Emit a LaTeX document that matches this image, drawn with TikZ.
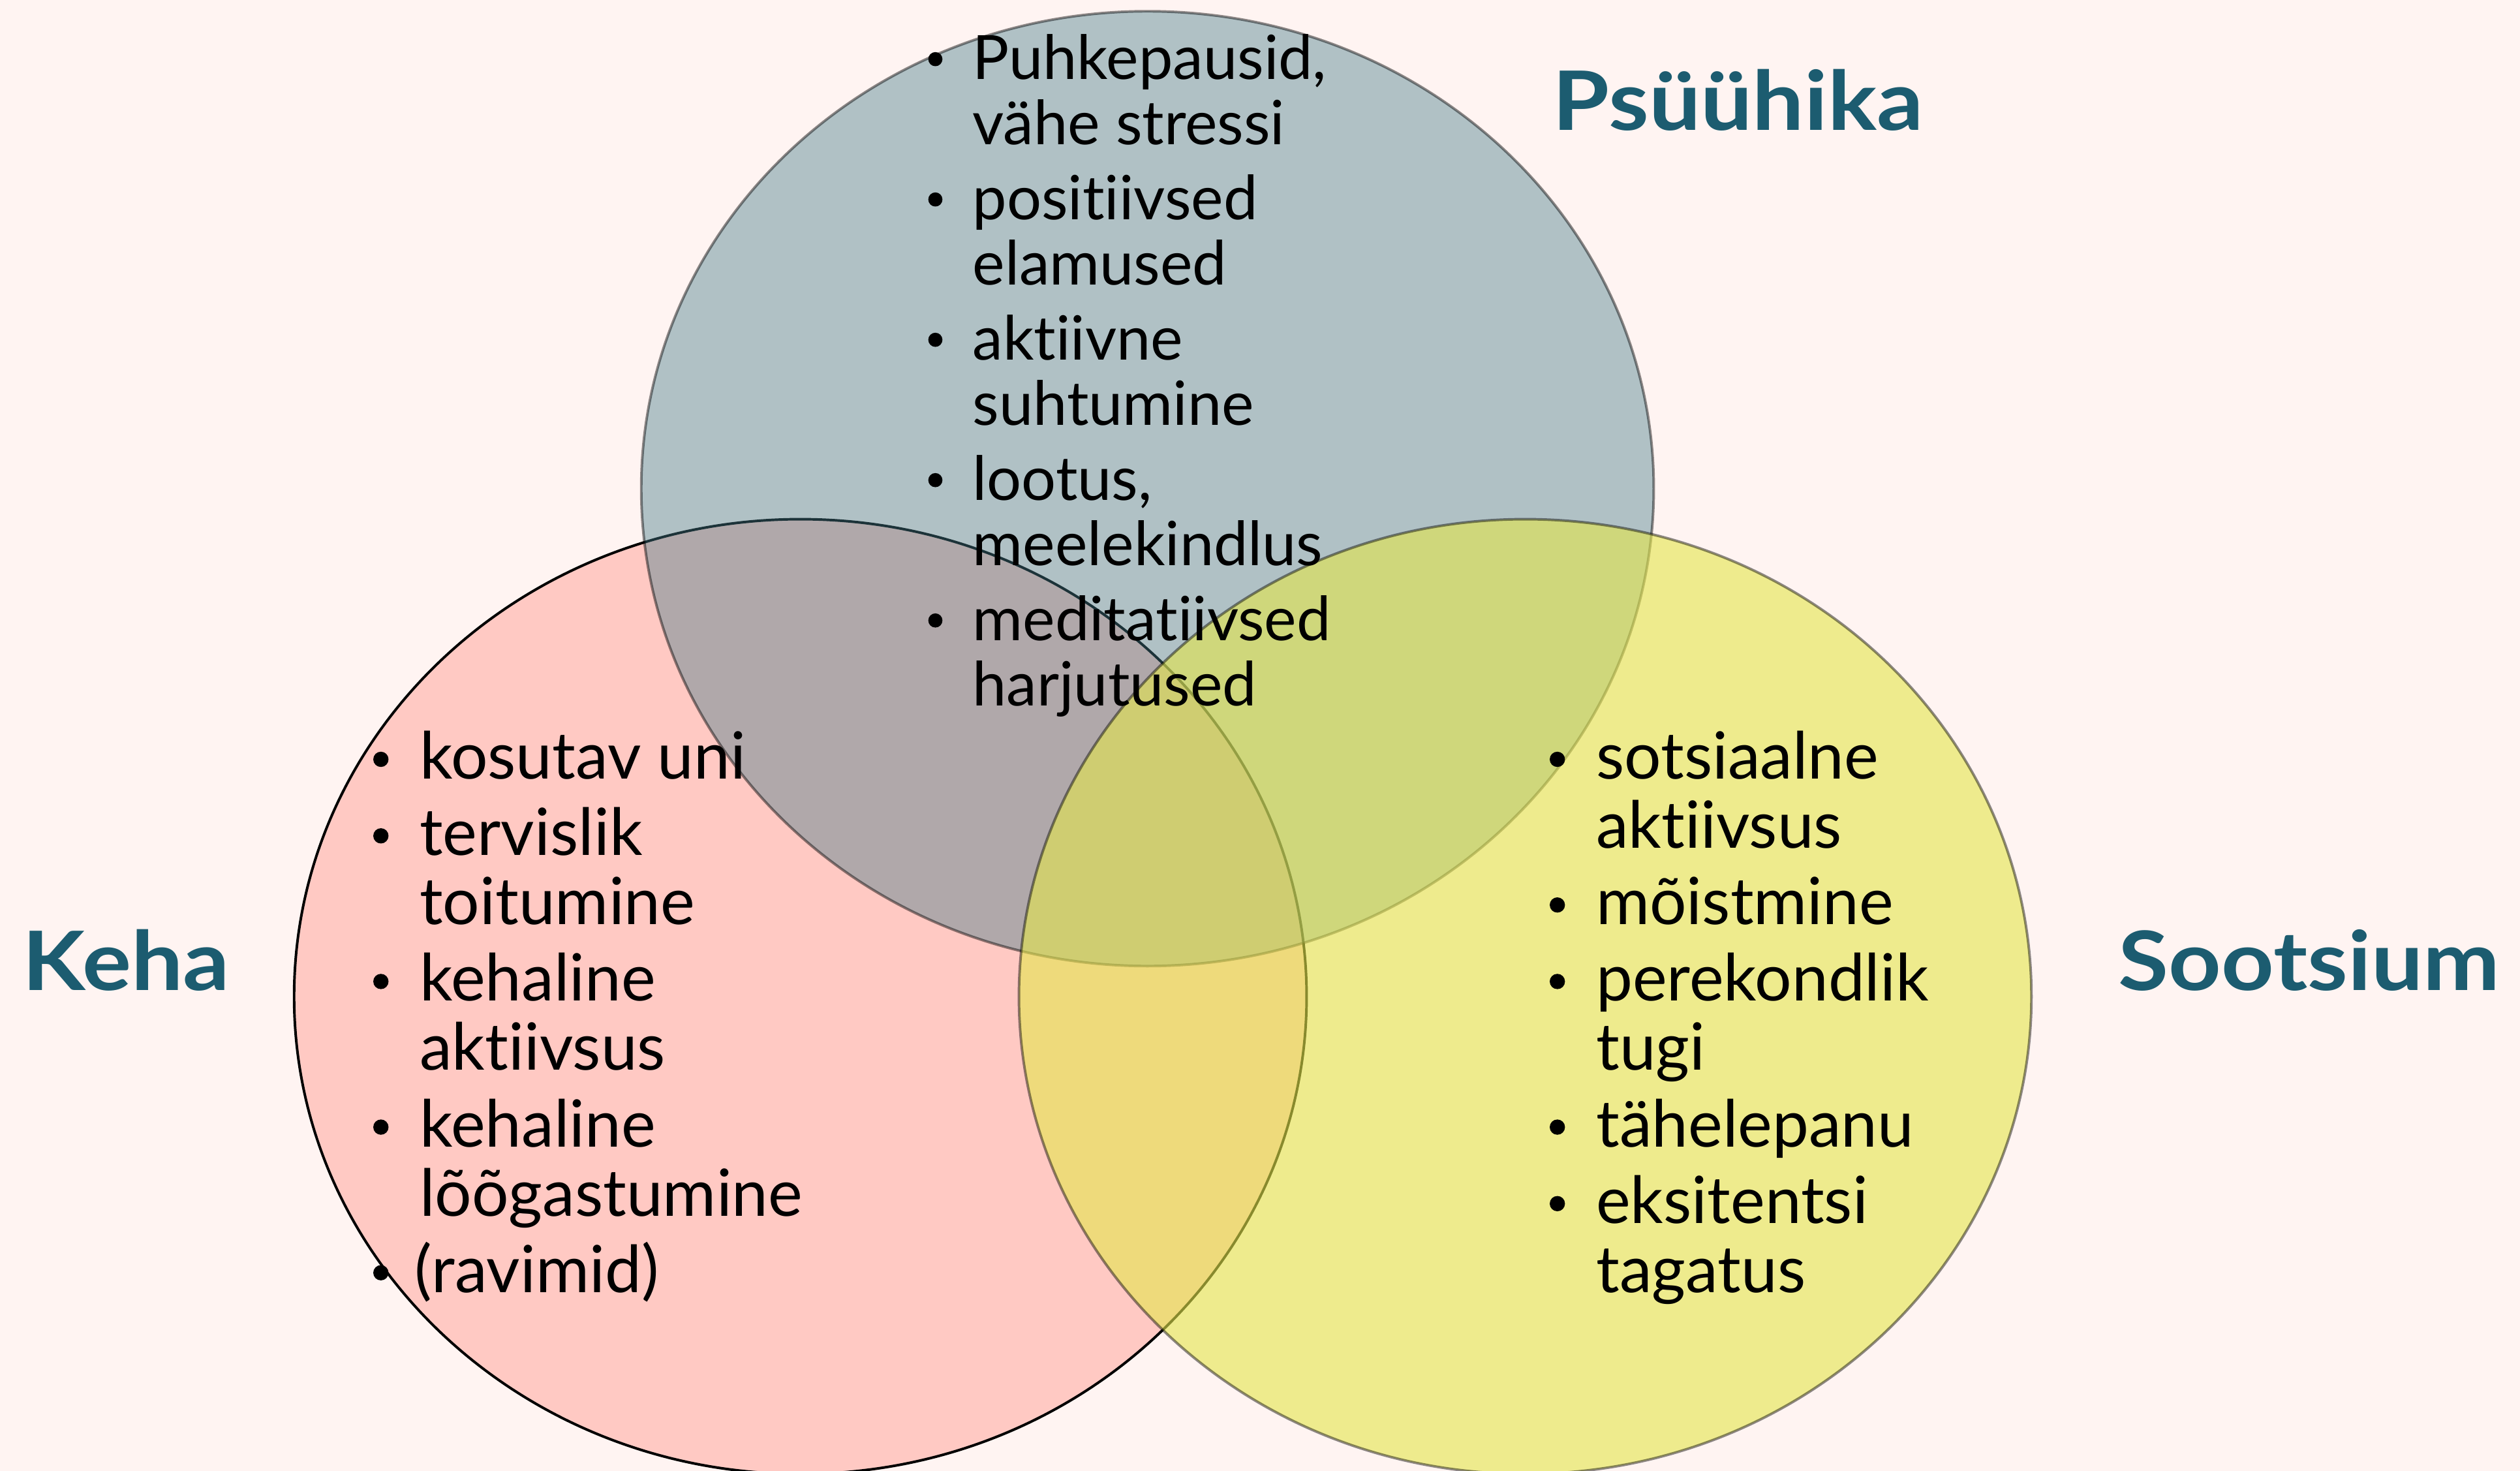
\documentclass[tikz,border=0pt]{standalone}
\usepackage{fontspec}
\setmainfont{Lato}[Ligatures={NoCommon,NoDiscretionary,NoRare}]
\newfontfamily\titlefont{Lato}[FakeStretch=1.12, Ligatures={NoCommon,NoDiscretionary,NoRare}]
\definecolor{bgc}{RGB}{255,244,242}
\definecolor{redc}{RGB}{255,201,195}
\definecolor{bluec}{RGB}{69,123,137}
\definecolor{yelc}{RGB}{228,230,75}
\definecolor{titlec}{RGB}{28,92,112}
\begin{document}
\begin{tikzpicture}[x=1pt,y=-1pt,
  set/.style={line width=1.6pt},
  txt/.style={anchor=base west, inner sep=0pt, font=\fontsize{40.5}{43}\selectfont},
  btxt/.style={anchor=base west, inner sep=0pt, font=\fontsize{38}{40.6}\selectfont},
  dot/.style={circle, fill=black, inner sep=0pt, minimum size=9.5pt},
  bdot/.style={circle, fill=black, inner sep=0pt, minimum size=8.8pt},
  title/.style={anchor=base west, inner sep=0pt, font=\titlefont\fontsize{51}{60}\selectfont\bfseries, text=titlec}]
\useasboundingbox (0,0) rectangle (1568,915);
\clip (0,0) rectangle (1568,915);
\fill[bgc] (0,0) rectangle (1568,915);
% sets
\draw[set, fill=redc, draw=black] (498,620) ellipse [x radius=315pt, y radius=297pt];
\draw[set, fill=bluec, fill opacity=0.42, draw=black, draw opacity=0.45] (714,304) ellipse [x radius=315pt, y radius=297pt];
\draw[set, fill=yelc, fill opacity=0.6, draw=black, draw opacity=0.45] (949,620) ellipse [x radius=315pt, y radius=297pt];
% titles
\node[title] (tp) at (966,81) {Psüühika};
\node[title] (tk) at (14,616) {Keha};
\node[title] (ts) at (1318,616) {Sootsium};
% Psyyhika list
\node[bdot] (pb1) at (582,36.8) {};
\node[btxt] (p1a) at (605,49.4) {Puhkepausid,};
\node[btxt] (p1b) at (605,90.0) {vähe stressi};
\node[bdot] (pb2) at (582,124.1) {};
\node[btxt] (p2a) at (605,136.7) {positiivsed};
\node[btxt] (p2b) at (605,177.3) {elamused};
\node[bdot] (pb3) at (582,211.4) {};
\node[btxt] (p3a) at (605,224.0) {aktiivne};
\node[btxt] (p3b) at (605,264.6) {suhtumine};
\node[bdot] (pb4) at (582,298.7) {};
\node[btxt] (p4a) at (605,311.3) {lootus,};
\node[btxt] (p4b) at (605,351.9) {meelekindlus};
\node[bdot] (pb5) at (582,386.0) {};
\node[btxt] (p5a) at (605,398.6) {meditatiivsed};
\node[btxt] (p5b) at (605,439.2) {harjutused};
% Keha list
\node[dot] (kb1) at (237,472.4) {};
\node[txt] (k1a) at (261,484.6) {kosutav uni};
\node[dot] (kb2) at (237,520.0) {};
\node[txt] (k2a) at (261,532.2) {tervislik};
\node[txt] (k2b) at (261,575.2) {toitumine};
\node[dot] (kb3) at (237,610.6) {};
\node[txt] (k3a) at (261,622.8) {kehaline};
\node[txt] (k3b) at (261,665.8) {aktiivsus};
\node[dot] (kb4) at (237,701.2) {};
\node[txt] (k4a) at (261,713.4) {kehaline};
\node[txt] (k4b) at (261,756.4) {lõõgastumine};
\node[dot] (kb5) at (237,791.8) {};
\node[txt] (k5a) at (258,804.0) {(ravimid)};
% Sootsium list
\node[dot] (sb1) at (969,472.4) {};
\node[txt] (s1a) at (993,484.6) {sotsiaalne};
\node[txt] (s1b) at (993,527.6) {aktiivsus};
\node[dot] (sb2) at (969,563.0) {};
\node[txt] (s2a) at (993,575.2) {mõistmine};
\node[dot] (sb3) at (969,610.6) {};
\node[txt] (s3a) at (993,622.8) {perekondlik};
\node[txt] (s3b) at (993,665.8) {tugi};
\node[dot] (sb4) at (969,701.2) {};
\node[txt] (s4a) at (993,713.4) {tähelepanu};
\node[dot] (sb5) at (969,748.8) {};
\node[txt] (s5a) at (993,761.0) {eksitentsi};
\node[txt] (s5b) at (993,804.0) {tagatus};
\end{tikzpicture}
\end{document}
